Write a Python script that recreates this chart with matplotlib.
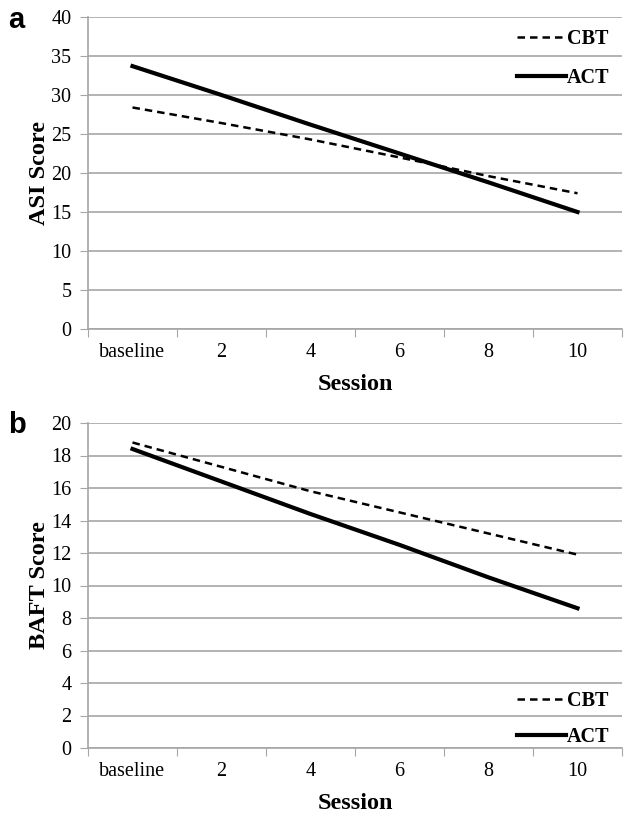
import matplotlib.pyplot as plt
import numpy as np

# session categories
sessions = ['baseline', '2', '4', '6', '8', '10']

# panel a - ASI score
asi_cbt = [28.4, 26.4, 24.3, 22.0, 19.6, 17.4]
asi_act = [33.7, 30.0, 26.2, 22.5, 18.8, 15.0]

# panel b - BAFT score
baft_cbt = [18.8, 17.3, 15.8, 14.5, 13.2, 11.9]
baft_act = [18.4, 16.4, 14.4, 12.5, 10.5, 8.6]

serif = 'Liberation Serif'
grey = '#a6a6a6'

fig = plt.figure(figsize=(6.28, 8.19), dpi=100)
ax1 = fig.add_axes([88/628, 1-329/819, 534/628, 312/819])
ax2 = fig.add_axes([88/628, 1-748/819, 534/628, 325/819])


def style_axes(ax, ymax, ystep, ylabel):
    x = np.arange(len(sessions))
    ax.set_xlim(-0.5, len(sessions) - 0.5)
    ax.set_ylim(0, ymax)
    ax.set_yticks(np.arange(0, ymax + 1, ystep))
    ax.yaxis.grid(True, color=grey, linewidth=1.2)
    ax.set_axisbelow(True)
    # category labels in the middle, tick marks at the boundaries
    ax.set_xticks(np.arange(-0.5, len(sessions)), minor=False)
    ax.set_xticklabels([])
    ax.set_xticks(x, minor=True)
    ax.set_xticklabels(sessions, minor=True, fontfamily=serif, fontsize=14.5)
    ax.tick_params(axis='x', which='minor', length=0, pad=10)
    ax.tick_params(axis='x', which='major', length=6, color=grey, direction='out')
    ax.tick_params(axis='y', length=6, color=grey, pad=6)
    for lab in ax.get_yticklabels():
        lab.set_fontfamily(serif)
        lab.set_fontsize(14.5)
    for s in ['top', 'right']:
        ax.spines[s].set_visible(False)
    for s in ['left', 'bottom']:
        ax.spines[s].set_color(grey)
        ax.spines[s].set_linewidth(1.2)
    ax.set_xlabel('Session', fontfamily=serif, fontweight='bold', fontsize=17.5, labelpad=9)
    ax.set_ylabel(ylabel, fontfamily=serif, fontweight='bold', fontsize=17.5, labelpad=1)
    return x


x = style_axes(ax1, 40, 5, 'ASI Score')
ax1.plot(x, asi_cbt, color='black', linestyle=(0, (3, 2)), linewidth=1.8, label='CBT')
ax1.plot(x, asi_act, color='black', linewidth=3, label='ACT')
ax1.legend(loc='upper right', bbox_to_anchor=(1.01, 1.02), frameon=False,
           prop={'family': serif, 'weight': 'bold', 'size': 14.5},
           handlelength=2.4, handletextpad=0.05, labelspacing=0.95)

x = style_axes(ax2, 20, 2, 'BAFT Score')
ax2.plot(x, baft_cbt, color='black', linestyle=(0, (3, 2)), linewidth=1.8, label='CBT')
ax2.plot(x, baft_act, color='black', linewidth=3, label='ACT')
ax2.legend(loc='lower right', bbox_to_anchor=(1.01, -0.052), frameon=False,
           prop={'family': serif, 'weight': 'bold', 'size': 14.5},
           handlelength=2.4, handletextpad=0.05, labelspacing=0.8)

fig.text(8/628, 1-28/819, 'a', fontfamily='Liberation Sans', fontweight='bold', fontsize=21)
fig.text(8/628, 1-433/819, 'b', fontfamily='Liberation Sans', fontweight='bold', fontsize=21)

fig.savefig('out.png', dpi=100)
